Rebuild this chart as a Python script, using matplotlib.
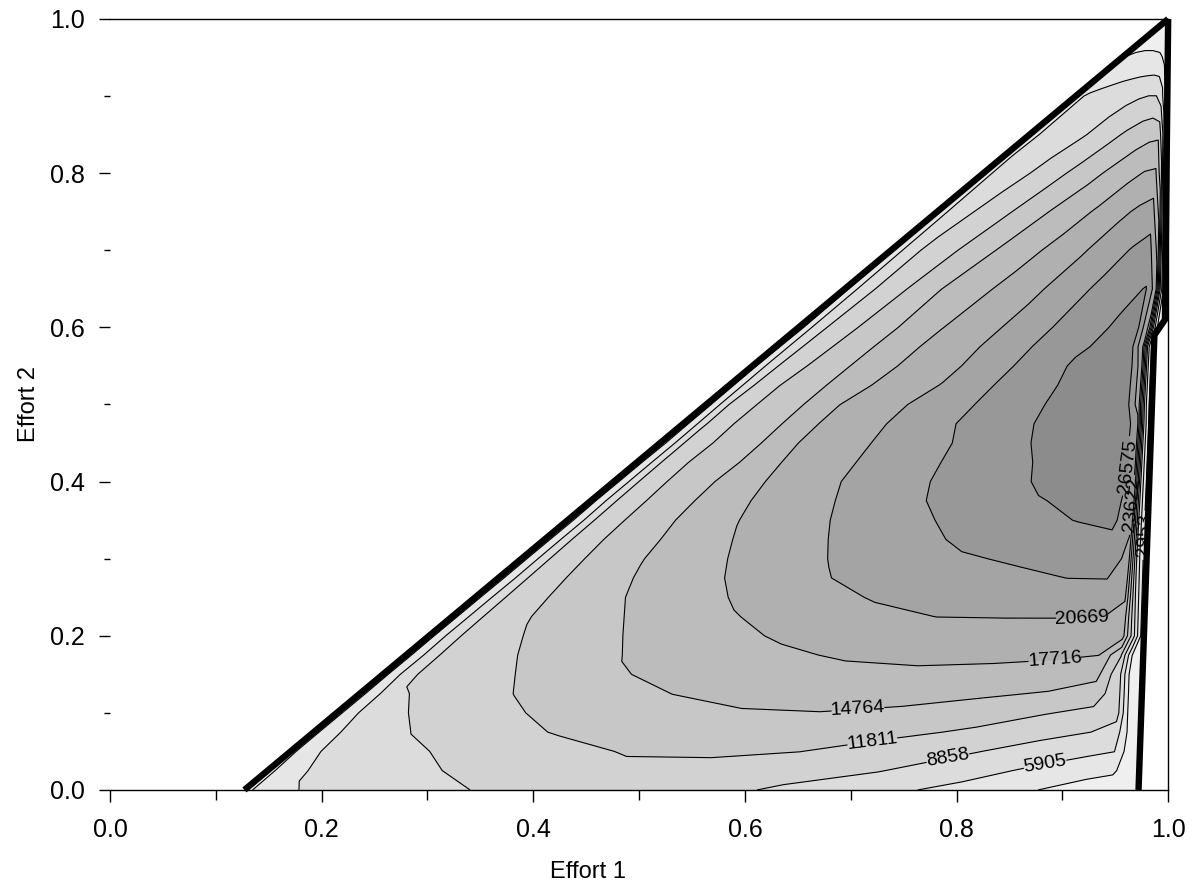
import numpy as np
import matplotlib.pyplot as plt

# PENGATURAN GAMBAR
FIG_SIZE = (11.92, 8.86)
DPI = 100

# BATAS DAERAH (garis tebal)
DIAG_X = [0.127, 1.0]
DIAG_Y = [0.0, 1.0]
RIGHT_X = [0.972, 0.987, 0.997, 1.0]
RIGHT_Y = [0.0, 0.59, 0.61, 1.0]

# TINGKAT KONTUR
LEVELS = [2953, 5905, 8858, 11811, 14764, 17716, 20669, 23622, 26575]
BAND_COLORS = ['#efefef', '#e6e6e6', '#dcdcdc', '#d2d2d2', '#c7c7c7',
               '#bcbcbc', '#b0b0b0', '#a4a4a4', '#989898', '#8c8c8c']

# GRID: baris Effort 2, kolom = posisi relatif antara garis diagonal
# (kiri) dan batas kanan pada baris tsb
ROW_Y = [0.000, 0.025, 0.050, 0.075, 0.100, 0.125, 0.150, 0.175, 0.200,
         0.225, 0.250, 0.275, 0.300, 0.325, 0.350, 0.375, 0.400, 0.425,
         0.450, 0.475, 0.500, 0.525, 0.550, 0.575, 0.600, 0.650, 0.700,
         0.750, 0.800, 0.850, 0.900, 0.950, 1.000]
COL_S = [0.0, 0.01, 0.05, 0.12, 0.2, 0.3, 0.4, 0.5, 0.6, 0.7, 0.8, 0.88,
         0.94, 0.97, 0.985, 1.0]

# NILAI (dibaca dari kontur gambar), satu baris per ROW_Y
VALUES = [
    [0, 3230, 5700, 7000, 8040, 9600, 10300, 10000, 8440, 6880, 5040, 3150,
     1600, 1000, 450, 0],                                            # 0.000
    [0, 3407, 6146, 7408, 8850, 10100, 11000, 11000, 9957, 9013, 7105,
     5334, 4073, 3500, 1500, 0],                                     # 0.025
    [0, 4500, 6680, 8190, 9410, 10560, 12100, 12200, 11850, 10370, 9120,
     7620, 6520, 5950, 2000, 0],                                     # 0.050
    [0, 4500, 6961, 8930, 10392, 12100, 12700, 13264, 13130, 12584, 11305,
     9810, 8858, 7500, 2500, 0],                                     # 0.075
    [0, 4300, 8060, 9490, 11120, 13100, 13770, 14560, 14700, 14270, 13245,
     12000, 11073, 10000, 2000, 0],                                  # 0.100
    [0, 4100, 8560, 10124, 11900, 13300, 14800, 15457, 15791, 15729,
     15186, 14537, 13335, 9800, 1800, 0],                            # 0.125
    [0, 4250, 9400, 10660, 12360, 14490, 15500, 16210, 16930, 17150, 16870,
     16430, 15600, 9500, 1500, 0],                                   # 0.150
    [0, 4000, 9435, 11130, 12864, 14900, 16000, 17213, 18063, 18430, 18378,
     18153, 17750, 12000, 3000, 0],                                  # 0.175
    [0, 4100, 9550, 11545, 13376, 15330, 16860, 18100, 19000, 19550, 19680,
     19500, 19350, 19000, 10000, 0],                                 # 0.200
    [0, 3900, 9556, 12000, 13803, 15792, 17506, 18800, 20030, 20700, 20760,
     20780, 20750, 19500, 9500, 0],                                  # 0.225
    [0, 3740, 9530, 12228, 14275, 16300, 18130, 19735, 20900, 21600, 21950,
     22230, 22350, 21000, 9000, 0],                                  # 0.250
    [0, 3400, 9552, 12450, 14580, 16769, 18691, 20440, 22027, 22474, 23168,
     23650, 23700, 22000, 8500, 0],                                  # 0.275
    [0, 3350, 9560, 12645, 14850, 17134, 19084, 20850, 22080, 23350, 23950,
     24450, 24850, 23000, 8000, 0],                                  # 0.300
    [0, 3200, 9590, 12811, 14967, 17479, 19425, 21188, 22704, 24100, 24747,
     25359, 25967, 23500, 8000, 0],                                  # 0.325
    [0, 2990, 9474, 12853, 15172, 17820, 19730, 21520, 23190, 24500, 25720,
     26700, 27200, 24500, 8000, 0],                                  # 0.350
    [0, 3300, 9449, 12797, 15174, 18093, 19968, 21802, 23600, 25031, 26450,
     27000, 27500, 25000, 8000, 0],                                  # 0.375
    [0, 3100, 9375, 12831, 15080, 18260, 20226, 22025, 23780, 25330, 26900,
     27700, 28000, 25500, 8000, 0],                                  # 0.400
    [0, 2953, 9240, 12789, 14764, 18366, 20179, 21976, 23750, 25509, 27000,
     27850, 28200, 25500, 8000, 0],                                  # 0.425
    [0, 2700, 9000, 12407, 14514, 18417, 20126, 21912, 23700, 25650, 27300,
     28000, 28300, 25000, 8000, 0],                                  # 0.450
    [0, 2800, 8800, 12402, 14337, 18112, 19981, 21961, 23964, 25865, 27300,
     28000, 28300, 25000, 8000, 0],                                  # 0.475
    [0, 2800, 8800, 12100, 14097, 17700, 19654, 21606, 23575, 25640, 27200,
     27900, 28200, 22000, 7000, 0],                                  # 0.500
    [0, 2900, 8440, 11800, 13840, 16961, 19056, 20750, 23077, 25254, 27000,
     27750, 28000, 22000, 7000, 0],                                  # 0.525
    [0, 2953, 8200, 11358, 13556, 16318, 18559, 20180, 22460, 24700, 26900,
     27600, 27900, 22000, 7000, 0],                                  # 0.550
    [0, 2700, 7927, 10915, 13223, 15794, 18149, 19855, 21869, 24114, 26175,
     27200, 27500, 21000, 7000, 0],                                  # 0.575
    [0, 2400, 7700, 10531, 12821, 15381, 17670, 19467, 21374, 23550, 25640,
     26900, 27000, 20000, 7000, 0],                                  # 0.600
    [0, 2700, 7050, 9833, 11950, 14700, 16585, 18419, 20208, 22251, 24340,
     25950, 26700, 22000, 8000, 0],                                  # 0.650
    [0, 2700, 6742, 9270, 10878, 13027, 15158, 16857, 18602, 20380, 22363,
     23900, 24800, 20000, 8000, 0],                                  # 0.700
    [0, 2953, 6314, 8040, 9635, 11321, 13140, 14980, 16536, 18155, 19977,
     21200, 22000, 17000, 7000, 0],                                  # 0.750
    [0, 2953, 6068, 7008, 8081, 9492, 10995, 12506, 14008, 15469, 16888,
     17900, 18200, 13000, 5000, 0],                                  # 0.800
    [0, 2000, 5700, 6434, 7074, 7868, 8670, 9800, 11040, 12237, 13357,
     14000, 14200, 9000, 4000, 0],                                   # 0.850
    [0, 2000, 5600, 6147, 6480, 6900, 7320, 7740, 8160, 8580, 8900, 8900,
     7000, 3500, 1500, 0],                                           # 0.900
    [0, 2000, 3000, 3200, 3400, 3500, 3600, 3600, 3600, 3500, 3400, 3000,
     2000, 1200, 600, 0],                                            # 0.950
    [0, 0, 0, 0, 0, 0, 0, 0, 0, 0, 0, 0, 0, 0, 0, 0],                # 1.000
]

# POSISI LABEL KONTUR
LABEL_POS = {
    2953: (0.983, 0.33),
    5905: (0.884, 0.031),
    8858: (0.792, 0.040),
    11811: (0.721, 0.056),
    14764: (0.707, 0.101),
    17716: (0.893, 0.167),
    20669: (0.919, 0.214),
    23622: (0.964, 0.37),
    26575: (0.962, 0.42),
}

plt.rcParams['font.family'] = ['Liberation Sans', 'DejaVu Sans']

# GRID LENGKUNG
row_y = np.array(ROW_Y)
col_s = np.array(COL_S)
x_left = np.interp(row_y, DIAG_Y, DIAG_X)
x_right = np.interp(row_y, RIGHT_Y, RIGHT_X)
X = x_left[:, None] + col_s[None, :] * (x_right - x_left)[:, None]
Y = np.repeat(row_y[:, None], len(col_s), axis=1)
Z = np.array(VALUES, dtype=float)

fig, ax = plt.subplots(figsize=FIG_SIZE, dpi=DPI)
fig.subplots_adjust(left=0.0923, right=0.98, bottom=0.1084, top=0.9786)

ax.contourf(X, Y, Z, levels=[-1] + LEVELS + [40000], colors=BAND_COLORS)

# satu set kontur per tingkat supaya label bisa ditaruh manual
for lev in LEVELS:
    cs = ax.contour(X, Y, Z, levels=[lev], colors='black', linewidths=0.8)
    if lev in LABEL_POS:
        ax.clabel(cs, manual=[LABEL_POS[lev]], inline=True, fmt='%d',
                  fontsize=14, inline_spacing=3)

ax.plot(DIAG_X, DIAG_Y, color='black', lw=4.6, clip_on=False,
        solid_capstyle='butt', zorder=5)
ax.plot(RIGHT_X, RIGHT_Y, color='black', lw=4.6, clip_on=False,
        solid_capstyle='butt', zorder=5)

ax.set_xlim(0, 1)
ax.set_ylim(0, 1)
ax.spines['left'].set_visible(False)
for side in ['top', 'right', 'bottom']:
    ax.spines[side].set_linewidth(1.0)

ax.set_xticks([0.0, 0.2, 0.4, 0.6, 0.8, 1.0])
ax.set_xticks([0.1, 0.3, 0.5, 0.7, 0.9], minor=True)
ax.set_yticks([0.0, 0.2, 0.4, 0.6, 0.8, 1.0])
ax.set_yticks([0.1, 0.3, 0.5, 0.7, 0.9], minor=True)
ax.xaxis.set_major_formatter(plt.FormatStrFormatter('%.1f'))
ax.yaxis.set_major_formatter(plt.FormatStrFormatter('%.1f'))
ax.tick_params(axis='x', which='major', direction='out', length=8.5,
               width=1, pad=12, labelsize=18)
ax.tick_params(axis='x', which='minor', direction='out', length=7,
               width=1)
ax.tick_params(axis='y', which='major', direction='out', length=8,
               width=1, pad=10, labelsize=18)
ax.tick_params(axis='y', which='minor', direction='out', length=4,
               width=1)

ax.set_xlabel('Effort 1', fontsize=17)
ax.set_ylabel('Effort 2', fontsize=17)
ax.xaxis.set_label_coords(0.452, -0.092)
ax.yaxis.set_label_coords(-0.066, 0.5)

plt.savefig('out.png', dpi=DPI)
plt.close(fig)
